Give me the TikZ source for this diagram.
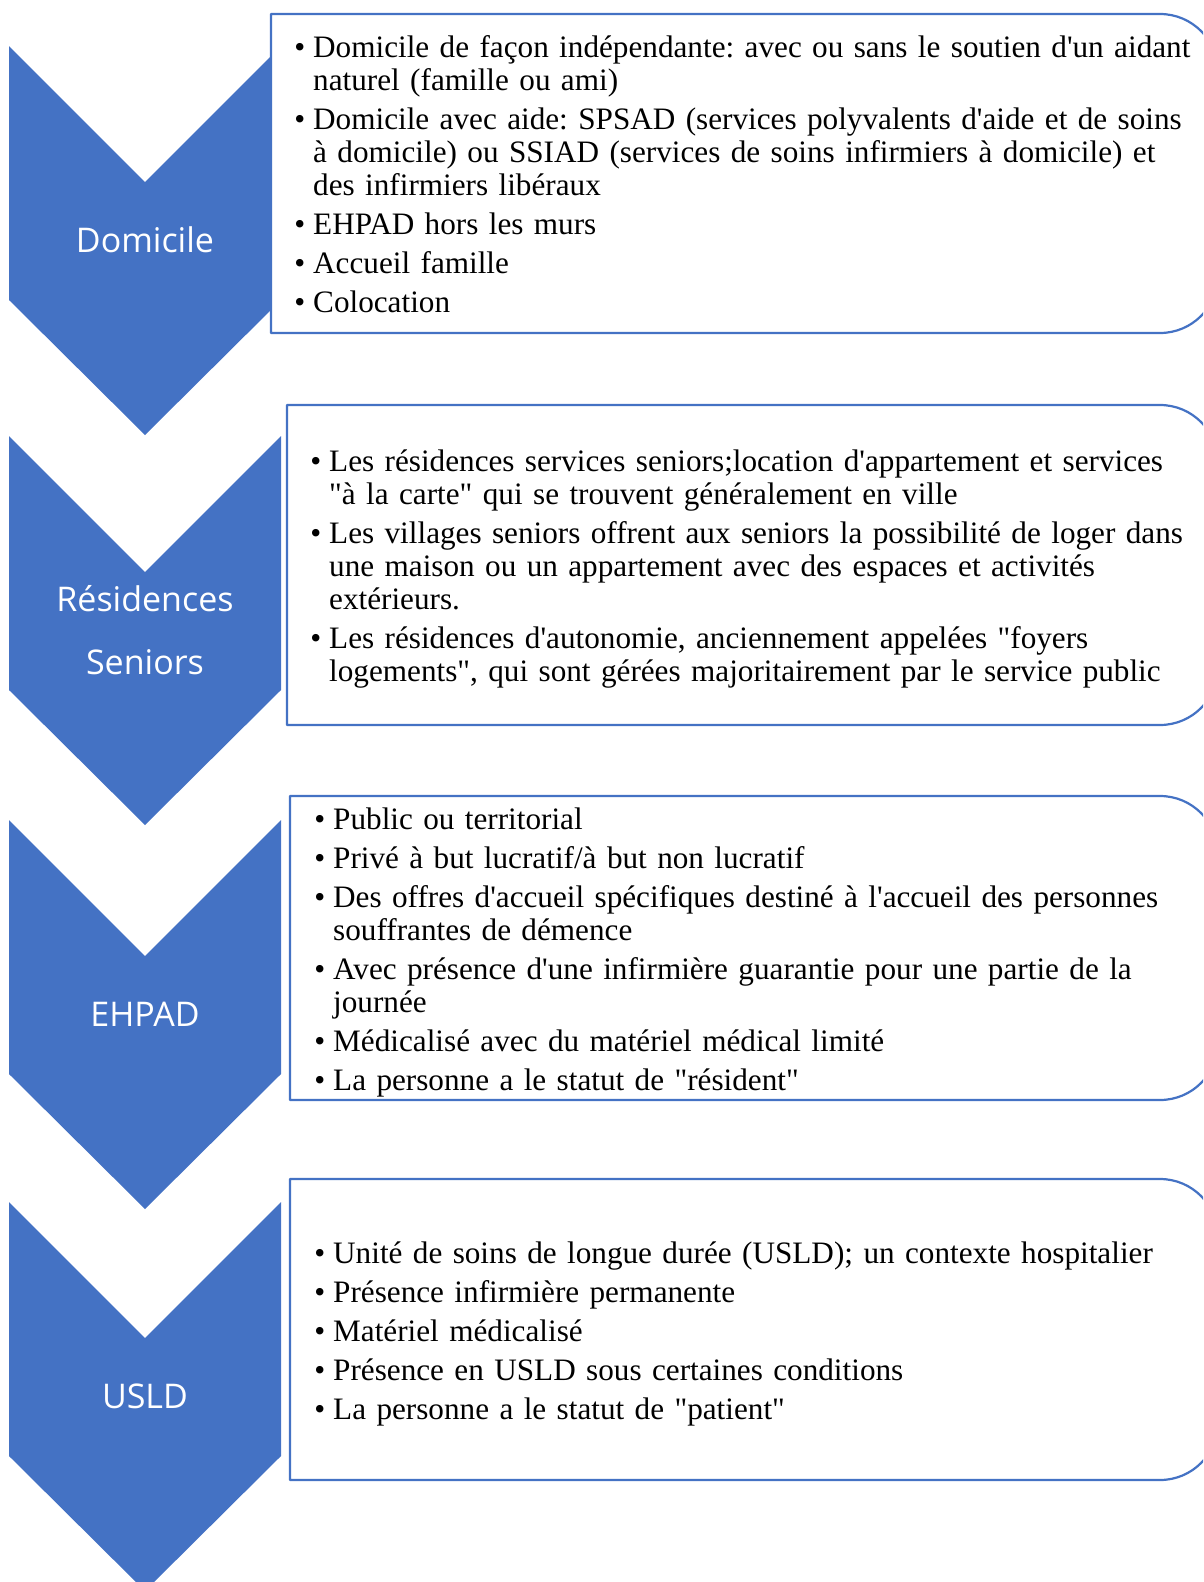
\documentclass[tikz,border=0pt]{standalone}
\usepackage{fontspec}
\setmainfont{Liberation Serif}[Ligatures=TeXOff]
\newfontfamily\titrefont{Open Sans}
\definecolor{bleu}{RGB}{68,114,196}
\frenchspacing
\newenvironment{puces}{\begin{list}{\textbullet}{%
  \setlength{\leftmargin}{19pt}\setlength{\labelsep}{8pt}%
  \setlength{\labelwidth}{11pt}\setlength{\itemindent}{0pt}%
  \setlength{\itemsep}{6pt}\setlength{\parsep}{0pt}%
  \setlength{\topsep}{0pt}\setlength{\partopsep}{0pt}}}{\end{list}}

\begin{document}
\begin{tikzpicture}[x=1pt,y=-1pt,line join=round,
  fleche/.style={fill=bleu,draw=none},
  cadre/.style={draw=bleu,line width=2.2pt,fill=white},
  titre/.style={text=white,font=\titrefont\fontsize{34}{63}\selectfont,align=center},
  liste/.style={anchor=base west,inner sep=0pt,text width=1000pt,align=left,
    font=\fontsize{31.2}{33}\selectfont}]
\clip (0,0) rectangle (1203,1582);
% chevrons
\foreach \t/\nom/\lab in {46/chDom/Domicile,436/chRes/{R\'esidences\\Seniors},
    820/chEhpad/EHPAD,1202/chUsld/USLD}{
  \fill[fleche] (9,\t) -- (145,\t+136) -- (281,\t) -- (281,\t+254)
    -- (145,\t+389) -- (9,\t+254) -- cycle;
  \node[titre] (\nom) at (145,\t+194) {\lab};
}
%
% cadres, coins arrondis a droite
\draw[cadre] (271,14) [rounded corners=58pt] -- (1218,14) -- (1218,333)
  [sharp corners] -- (271,333) -- cycle;
\draw[cadre] (287,405) [rounded corners=58pt] -- (1218,405) -- (1218,725)
  [sharp corners] -- (287,725) -- cycle;
\draw[cadre] (290,796) [rounded corners=58pt] -- (1218,796) -- (1218,1100)
  [sharp corners] -- (290,1100) -- cycle;
\draw[cadre] (290,1179) [rounded corners=58pt] -- (1218,1179) -- (1218,1480)
  [sharp corners] -- (290,1480) -- cycle;
%
% textes (la premiere ligne du noeud est vide: -33)
\node[liste] (txtDom) at (294,57-33) {\begin{puces}
\item Domicile de façon indépendante: avec ou sans le soutien d'un aidant\\
naturel (famille ou ami)
\item Domicile avec aide: SPSAD (services polyvalents d'aide et de soins\\
à domicile) ou SSIAD (services de soins infirmiers à domicile) et\\
des infirmiers libéraux
\item EHPAD hors les murs
\item Accueil famille
\item Colocation
\end{puces}};
\node[liste] (txtRes) at (310,471-33) {\begin{puces}
\item Les résidences services seniors;location d'appartement et services\\
"à la carte" qui se trouvent généralement en ville
\item Les villages seniors offrent aux seniors la possibilité de loger dans\\
une maison ou un appartement avec des espaces et activités\\
extérieurs.
\item Les résidences d'autonomie, anciennement appelées "foyers\\
logements", qui sont gérées majoritairement par le service public
\end{puces}};
\node[liste] (txtEhpad) at (314,829-33) {\begin{puces}
\item Public ou territorial
\item Privé à but lucratif/à but non lucratif
\item Des offres d'accueil spécifiques destiné à l'accueil des personnes\\
souffrantes de démence
\item Avec présence d'une infirmière guarantie pour une partie de la\\
journée
\item Médicalisé avec du matériel médical limité
\item La personne a le statut de "résident"
\end{puces}};
\node[liste] (txtUsld) at (314,1263-33) {\begin{puces}
\item Unité de soins de longue durée (USLD); un contexte hospitalier
\item Présence infirmière permanente
\item Matériel médicalisé
\item Présence en USLD sous certaines conditions
\item La personne a le statut de "patient"
\end{puces}};
\end{tikzpicture}
\end{document}
